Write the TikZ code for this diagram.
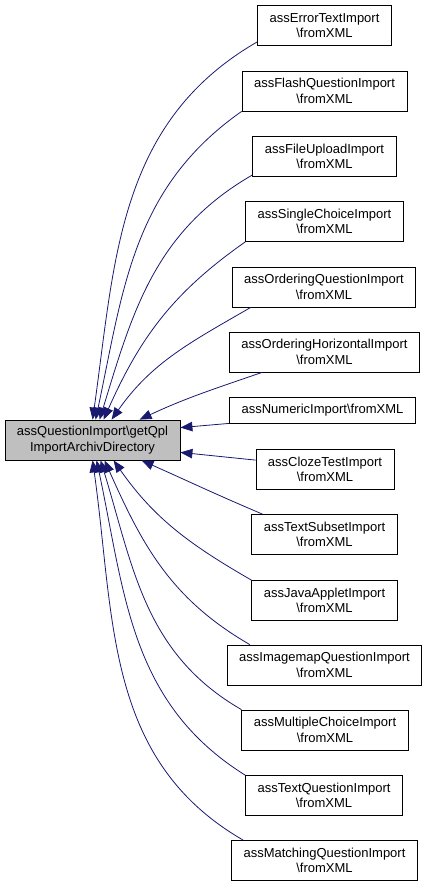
\documentclass[tikz,border=0pt]{standalone}
\usepackage{fontspec}
\setmainfont{Liberation Sans}
\usetikzlibrary{arrows.meta,positioning}
\definecolor{edgeblue}{HTML}{191970}
\definecolor{rootgray}{HTML}{BFBFBF}
\tikzset {
    style leaf/.style={
        draw=black,
        fill=white,
        rectangle, % Set the shape as a rectangle
        inner xsep=12pt,
        minimum height=40pt,
        align=center,
    },
    style root/.style={
        style leaf,
        fill=rootgray,
    },
    style edge/.style={
        draw=edgeblue,
        -{Triangle[length=12pt,width=9.5pt]},
    },
}
\begin{document}
\begin{tikzpicture}
[x=1pt, y=1pt, font=\fontsize{13}{15.5}\selectfont, line width=0.8pt]
\useasboundingbox (0,0) rectangle (427,-888);

\node[style root, minimum width=175pt] at (92.5,-440) (qpl) {assQuestionImport\textbackslash getQpl\\ImportArchivDirectory};

\node[style leaf] at (324.5,-25.5) (errortext) {assErrorTextImport\\\textbackslash fromXML};
\node[style leaf] at (324.5,-91) (flashq) {assFlashQuestionImport\\\textbackslash fromXML};
\node[style leaf] at (324.5,-156.5) (fileupload) {assFileUploadImport\\\textbackslash fromXML};
\node[style leaf] at (324.5,-221.5) (singlechoice) {assSingleChoiceImport\\\textbackslash fromXML};
\node[style leaf] at (324,-287) (orderingq) {assOrderingQuestionImport\\\textbackslash fromXML};
\node[style leaf] at (324.5,-352) (orderingh) {assOrderingHorizontalImport\\\textbackslash fromXML};
\node[style leaf, minimum height=26pt] at (322.5,-410) (numeric) {assNumericImport\textbackslash fromXML};
\node[style leaf] at (325,-469.5) (cloze) {assClozeTestImport\\\textbackslash fromXML};
\node[style leaf] at (324.5,-534.5) (textsubset) {assTextSubsetImport\\\textbackslash fromXML};
\node[style leaf] at (324.5,-600.5) (javaapplet) {assJavaAppletImport\\\textbackslash fromXML};
\node[style leaf] at (324.5,-665) (imagemap) {assImagemapQuestionImport\\\textbackslash fromXML};
\node[style leaf] at (325,-730) (multichoice) {assMultipleChoiceImport\\\textbackslash fromXML};
\node[style leaf] at (324,-795.5) (textq) {assTextQuestionImport\\\textbackslash fromXML};
\node[style leaf] at (324.5,-860.5) (matchingq) {assMatchingQuestionImport\\\textbackslash fromXML};

% upper callers
\draw[style edge] ([yshift=4pt]errortext.south west) to[out=210, in=82] ([xshift=88pt]qpl.north west);
\draw[style edge] (flashq.south west) to[out=215, in=78] ([xshift=91pt]qpl.north west);
\draw[style edge] ([yshift=2pt]fileupload.south west) to[out=210, in=73] ([xshift=95pt]qpl.north west);
\draw[style edge] (singlechoice.south west) to[out=215, in=66] ([xshift=99pt]qpl.north west);
\draw[style edge] ([xshift=19pt]orderingq.south west) to[out=210, in=55] ([xshift=107pt]qpl.north west);
\draw[style edge] ([xshift=33pt]orderingh.south west) to[out=199, in=25] ([xshift=135pt]qpl.north west);
% side callers
\draw[style edge] (numeric.south west) -- ([yshift=-8pt]qpl.north east);
\draw[style edge] ([yshift=-11pt]cloze.north west) -- ([yshift=8pt]qpl.south east);
% lower callers
\draw[style edge] ([xshift=11pt]textsubset.north west) to[out=157, in=-24] ([xshift=137pt]qpl.south west);
\draw[style edge] (javaapplet.north west) to[out=150, in=-55] ([xshift=109pt]qpl.south west);
\draw[style edge] ([xshift=23pt]imagemap.north west) to[out=150, in=-66] ([xshift=100pt]qpl.south west);
\draw[style edge] (multichoice.north west) to[out=150, in=-73] ([xshift=96pt]qpl.south west);
\draw[style edge] (textq.north west) to[out=148, in=-78] ([xshift=92pt]qpl.south west);
\draw[style edge] ([xshift=12pt]matchingq.north west) to[out=150, in=-82] ([xshift=88pt]qpl.south west);
\end{tikzpicture}
\end{document}
